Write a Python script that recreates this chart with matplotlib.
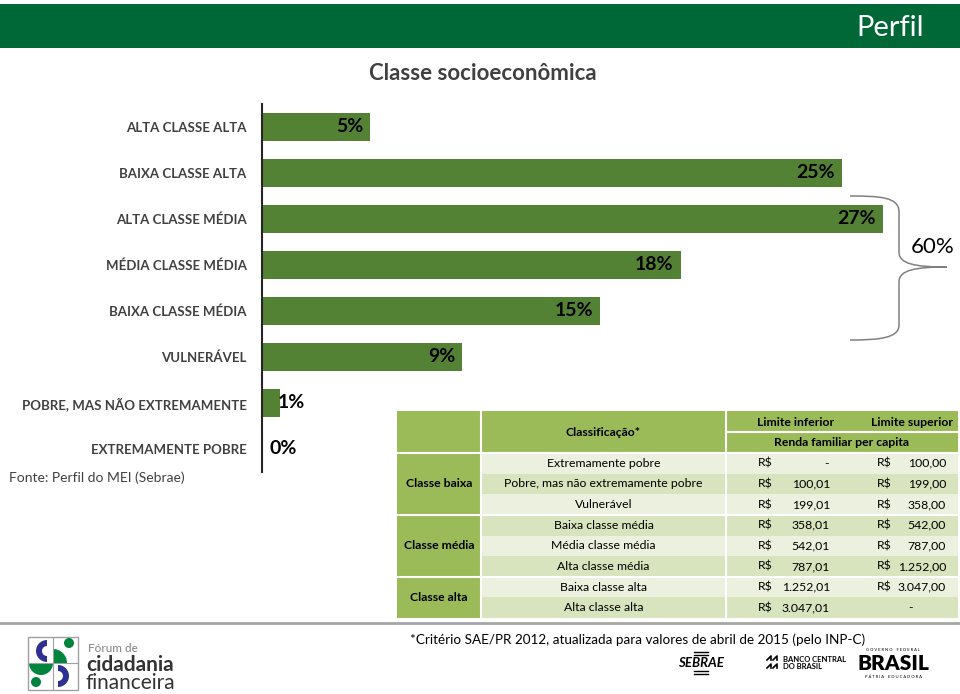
import matplotlib as mpl
mpl.use('Agg')
import matplotlib.pyplot as plt
from matplotlib.patches import Rectangle, Wedge, Circle, PathPatch
from matplotlib.path import Path

#
#--- chart data
#
categories = ['ALTA CLASSE ALTA', 'BAIXA CLASSE ALTA', 'ALTA CLASSE MÉDIA', 'MÉDIA CLASSE MÉDIA',
              'BAIXA CLASSE MÉDIA', 'VULNERÁVEL', 'POBRE, MAS NÃO EXTREMAMENTE', 'EXTREMAMENTE POBRE']
shares     = [4.7, 25.2, 27.0, 18.2, 14.7, 8.7, 0.8, 0.0]
bracket_label = '60%'

#
#--- table data
#
groups       = ['Classe baixa', 'Classe média', 'Classe alta']
group_sizes  = [3, 3, 2]
classes      = ['Extremamente pobre', 'Pobre, mas não extremamente pobre', 'Vulnerável',
                'Baixa classe média', 'Média classe média', 'Alta classe média',
                'Baixa classe alta', 'Alta classe alta']
lower_limits = ['-', '100,01', '199,01', '358,01', '542,01', '787,01', '1.252,01', '3.047,01']
upper_limits = ['100,00', '199,00', '358,00', '542,00', '787,00', '1.252,00', '3.047,00', '-']

title    = 'Classe socioeconômica'
source   = 'Fonte: Perfil do MEI (Sebrae)'
footnote = '*Critério SAE/PR 2012, atualizada para valores de abril de 2015 (pelo INP-C)'

#
#--- sizes and colors
#
W, H      = 960, 694
px_per    = 23.0
bar_color = '#548235'
hdr_color = '#9BBB59'
row_light = '#EBF1DE'
row_dark  = '#D7E4BD'
txt_gray  = '#404040'

plt.rcParams['font.family'] = ['Lato', 'DejaVu Sans']

fig = plt.figure(figsize=(W / 100.0, H / 100.0), dpi=100)

#
#--- overlay axes in pixel coordinates
#
bg = fig.add_axes([0, 0, 1, 1])
bg.set_xlim(0, W)
bg.set_ylim(H, 0)
bg.axis('off')

#
#--- header band
#
bg.add_patch(Rectangle((0, 4), W, 44, color='#006837', lw=0))
bg.text(924, 28, 'Perfil', color='white', fontsize=21, ha='right', va='center')
bg.text(483, 73, title, color=txt_gray, fontsize=16, fontweight='bold', ha='center', va='center')
bg.text(9, 478, source, color=txt_gray, fontsize=10, ha='left', va='center')

#
#--- bar chart
#
ax = fig.add_axes([262.0 / W, 1 - 472.0 / H, (W - 262.0) / W, 368.0 / H])
ax.patch.set_alpha(0)
ypos = list(range(len(categories)))
ax.barh(ypos, shares, height=0.61, color=bar_color, zorder=2)
ax.set_xlim(0, (W - 262.0) / px_per)
ax.set_ylim(len(categories) - 0.5, -0.5)
ax.set_yticks(ypos)
ax.set_yticklabels(categories, fontsize=9.5, fontweight='bold', color=txt_gray)
ax.tick_params(axis='y', length=0, pad=11)
ax.set_xticks([])
for s in ['top', 'right', 'bottom']:
    ax.spines[s].set_visible(False)
ax.spines['left'].set_color('#262626')
ax.spines['left'].set_linewidth(1.5)

for y, v in zip(ypos, shares):
    lab = '%.0f%%' % v
    if v >= 3:
        ax.text(v - 7 / px_per, y, lab, ha='right', va='center', fontsize=14, fontweight='bold', color='black')
    else:
        ax.text(max(v - 3 / px_per, 8 / px_per), y, lab, ha='left', va='center', fontsize=14,
                fontweight='bold', color='black')

#
#--- curly bracket for the middle class
#
verts = [(850, 196), (880, 196), (899, 197), (899, 212),
         (899, 252),
         (899, 264), (915, 267), (947, 267),
         (915, 267), (899, 270), (899, 282),
         (899, 325),
         (899, 338), (880, 340), (850, 340)]
codes = [Path.MOVETO, Path.CURVE4, Path.CURVE4, Path.CURVE4,
         Path.LINETO,
         Path.CURVE4, Path.CURVE4, Path.CURVE4,
         Path.CURVE4, Path.CURVE4, Path.CURVE4,
         Path.LINETO,
         Path.CURVE4, Path.CURVE4, Path.CURVE4]
bg.add_patch(PathPatch(Path(verts, codes), fill=False, edgecolor='#808080', lw=1.1))
bg.text(933, 247, bracket_label, fontsize=16, ha='center', va='center', color='black')

#
#--- table
#
x0, x1, x2, x3, x4 = 397, 481, 726, 866, 958
ytop, yh1, yh2 = 411, 432, 453
rh = (618 - yh2) / float(len(classes))
fs = 8.8

bg.add_patch(Rectangle((x0, ytop), x4 - x0, yh2 - ytop, color=hdr_color, lw=0))
for i in range(len(classes)):
    yy = yh2 + i * rh
    bg.add_patch(Rectangle((x1, yy), x4 - x1, rh, color=row_light if i % 2 == 0 else row_dark, lw=0))
    yc = yy + rh / 2
    bg.text((x1 + x2) / 2.0, yc, classes[i], fontsize=fs, ha='center', va='center', color='black')
    bg.text(758, yc, 'R$', fontsize=fs, ha='left', va='center', color='black')
    if lower_limits[i] == '-':
        bg.text(826, yc, '-', fontsize=fs, ha='center', va='center', color='black')
    else:
        bg.text(830, yc, lower_limits[i], fontsize=fs, ha='right', va='center', color='black')
    if upper_limits[i] == '-':
        bg.text(910, yc, '-', fontsize=fs, ha='center', va='center', color='black')
    else:
        bg.text(877, yc, 'R$', fontsize=fs, ha='left', va='center', color='black')
        bg.text(946, yc, upper_limits[i], fontsize=fs, ha='right', va='center', color='black')

start = 0
for g, n in zip(groups, group_sizes):
    ya = yh2 + start * rh
    bg.add_patch(Rectangle((x0, ya), x1 - x0, n * rh, color=hdr_color, lw=0))
    bg.text((x0 + x1) / 2.0, ya + n * rh / 2.0, g, fontsize=fs, fontweight='bold', ha='center', va='center')
    bg.plot([x0, x4], [ya, ya], color='white', lw=1.5)
    start += n

bg.plot([x1, x1], [ytop, 618], color='white', lw=1.5)
bg.plot([x2, x2], [ytop, 618], color='white', lw=1.5)
bg.plot([x2, x4], [yh1, yh1], color='white', lw=1.5)

bg.text((x1 + x2) / 2.0, (ytop + yh2) / 2.0, 'Classificação*', fontsize=fs, fontweight='bold', ha='center', va='center')
bg.text(796, (ytop + yh1) / 2.0 + 1, 'Limite inferior', fontsize=fs, fontweight='bold', ha='center', va='center')
bg.text(912, (ytop + yh1) / 2.0 + 1, 'Limite superior', fontsize=fs, fontweight='bold', ha='center', va='center')
bg.text((x2 + x4) / 2.0, (yh1 + yh2) / 2.0, 'Renda familiar per capita', fontsize=fs, fontweight='bold',
        ha='center', va='center')

#
#--- footer
#
bg.plot([0, W], [623, 623], color='#A6A6A6', lw=2)
bg.text(410, 640, footnote, fontsize=9.7, ha='left', va='center', color='black')

#
#--- forum logo (approximation)
#
bg.add_patch(Rectangle((28, 637), 50, 53, fill=False, edgecolor='#A0A0A0', lw=1))
bg.plot([53, 53], [637, 690], color='#A0A0A0', lw=0.8)
bg.plot([28, 78], [663, 663], color='#A0A0A0', lw=0.8)
bg.add_patch(Wedge((47, 651), 11, 90, 270, width=6, color='#2E3192', lw=0))
bg.add_patch(Wedge((53, 663), 14, 270, 360, color='#00843D', lw=0))
bg.add_patch(Circle((69, 643), 5, color='#00843D', lw=0))
bg.add_patch(Wedge((41, 663), 12, 0, 180, color='#00843D', lw=0))
bg.add_patch(Circle((36, 682), 5, color='#00843D', lw=0))
bg.add_patch(Wedge((58, 676), 11, -90, 90, width=6, color='#2E3192', lw=0))
bg.text(88, 648, 'Fórum de', fontsize=8.5, color='#808080', ha='left', va='center')
bg.text(86, 665, 'cidadania', fontsize=15, fontweight='bold', color='#333333', ha='left', va='center')
bg.text(86, 683, 'financeira', fontsize=15, color='#333333', ha='left', va='center')

#
#--- partner logos (approximation)
#
bg.text(701, 663, 'SEBRAE', fontsize=9.5, fontweight='bold', style='italic', ha='center', va='center')
for yy in [652, 655, 671, 674]:
    bg.plot([694, 708], [yy, yy], color='black', lw=1)
bg.plot([767, 771, 771], [660, 656, 660], color='black', lw=1.2)
bg.plot([773, 777, 777], [660, 656, 660], color='black', lw=1.2)
bg.plot([767, 771, 771], [668, 664, 668], color='black', lw=1.2)
bg.plot([773, 777, 777], [668, 664, 668], color='black', lw=1.2)
bg.text(783, 663, 'BANCO CENTRAL\nDO BRASIL', fontsize=5.5, fontweight='bold', ha='left', va='center',
        linespacing=1.1)
bg.text(893, 663, 'BRASIL', fontsize=15, fontweight='heavy', ha='center', va='center')
bg.text(893, 650, 'G O V E R N O    F E D E R A L', fontsize=3.0, ha='center', va='center')
bg.text(893, 677, 'P Á T R I A    E D U C A D O R A', fontsize=3.0, ha='center', va='center')

fig.savefig('out.png', dpi=100)
plt.close('all')
